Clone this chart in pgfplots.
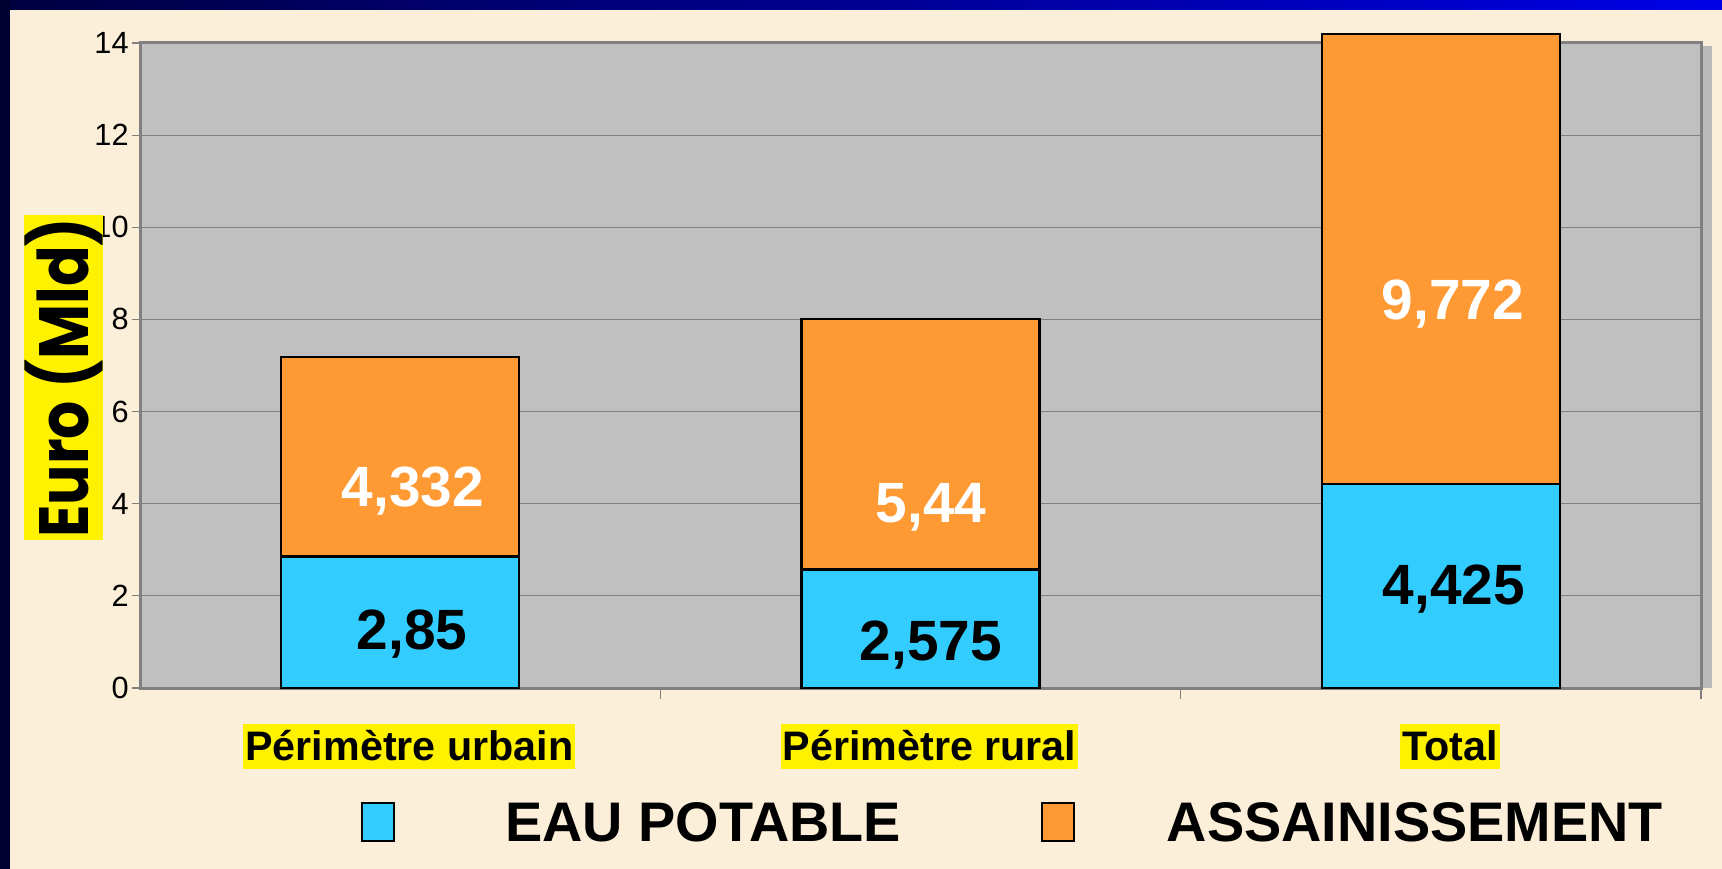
\documentclass[border=0pt]{standalone}
\usepackage{pgfplots}
\pgfplotsset{compat=1.18}
\usepackage{fontspec}
\setmainfont{Liberation Sans}
\newfontfamily\futura{Poppins}
\definecolor{eau}{HTML}{33CCFF}
\definecolor{ass}{HTML}{FF9933}
\definecolor{plotbg}{HTML}{C0C0C0}
\definecolor{beige}{HTML}{FCEFD9}
\definecolor{gridc}{HTML}{808080}
\definecolor{navyL}{HTML}{000040}
\definecolor{navyR}{HTML}{0000E6}
\definecolor{navyS}{HTML}{000030}
\definecolor{shadow}{HTML}{B9B9B9}
\tikzset{vlab/.style={anchor=base, font=\bfseries\fontsize{28.5}{32}\selectfont}}
\pgfplotsset{boxlegend/.style={legend image code/.code={\draw[#1,/tikz/.cd,draw=black,line width=1bp] (0bp,-8.75bp) rectangle (16bp,10.25bp);}}}
\begin{document}
\begin{tikzpicture}
\fill[beige] (0bp,0bp) rectangle (861bp,434.5bp);
\shade[left color=navyL, right color=navyR] (0bp,429.5bp) rectangle (861bp,434.5bp);
\fill[navyS] (0bp,0bp) rectangle (5bp,434.5bp);
\fill[shadow] (850.5bp,90.5bp) rectangle (856bp,411.5bp);
\begin{axis}[
  at={(70bp,90.5bp)}, anchor=south west,
  width=780.5bp, height=322.5bp, scale only axis,
  xmin=-0.5, xmax=2.5, ymin=0, ymax=14,
  ybar stacked, bar width=119bp,
  clip=false,
  axis background/.style={fill=plotbg},
  axis line style={draw=gridc, line width=1.5bp},
  ymajorgrids, grid style={draw=gridc, line width=0.6bp},
  ytick={0,2,...,14},
  tick align=outside, tick pos=left,
  major tick length=4bp,
  y tick style={draw=gridc, line width=0.6bp},
  yticklabel style={font=\fontsize{15.4}{18}\selectfont, inner xsep=1.5bp, /pgf/number format/assume math mode=true},
  xtick={0,1,2},
  xticklabels={Périmètre urbain, Périmètre rural, Total},
  x tick style={draw=none},
  xticklabel style={font=\bfseries\fontsize{20.7}{24}\selectfont, fill=yellow, inner xsep=1bp, inner ysep=0pt, text height=17.8bp, text depth=4.5bp, anchor=base, yshift=-32bp, xshift=4.6bp},
  extra x ticks={0.5,1.5,2.5},
  extra x tick labels={},
  extra x tick style={x tick style={draw=gridc, line width=0.6bp}, major tick length=5.5bp, xticklabel style={fill=none}},
  ylabel={\scalebox{0.86}[1]{Euro (Mld)}},
  every axis y label/.style={at={(axis description cs:-0.049,0.4814)}, rotate=90, anchor=center, fill=yellow, inner xsep=1bp, inner ysep=0pt, font=\futura\bfseries\fontsize{35}{40}\selectfont},
  legend columns=2,
  legend style={at={(axis description cs:0.14158,-0.2103)}, anchor=west, draw=none, fill=none, inner sep=0pt,
    font=\bfseries\fontsize{28}{32}\selectfont,
    nodes={inner sep=0pt},
    /tikz/column 1/.append style={column sep=55bp},
    /tikz/column 2/.append style={column sep=70bp},
    /tikz/column 3/.append style={column sep=45.8bp}},
]
\addplot[fill=eau, draw=black, line width=1.2bp, boxlegend]
  coordinates {(0,2.85) (1,2.575) (2,4.425)};
\addplot[fill=ass, draw=black, line width=1.2bp, boxlegend]
  coordinates {(0,4.332) (1,5.44) (2,9.772)};
\legend{EAU POTABLE, ASSAINISSEMENT}
\coordinate (l1) at (axis cs:0.0227,0.825);
\coordinate (l2) at (axis cs:0.0247,3.929);
\coordinate (l3) at (axis cs:1.0201,0.597);
\coordinate (l4) at (axis cs:1.0201,3.592);
\coordinate (l5) at (axis cs:2.0253,1.8015);
\coordinate (l6) at (axis cs:2.0234,7.998);
\end{axis}
\node[vlab, text=black] at (l1) {2,85};
\node[vlab, text=white] at (l2) {4,332};
\node[vlab, text=black] at (l3) {2,575};
\node[vlab, text=white] at (l4) {5,44};
\node[vlab, text=black] at (l5) {4,425};
\node[vlab, text=white] at (l6) {9,772};
\end{tikzpicture}
\end{document}
